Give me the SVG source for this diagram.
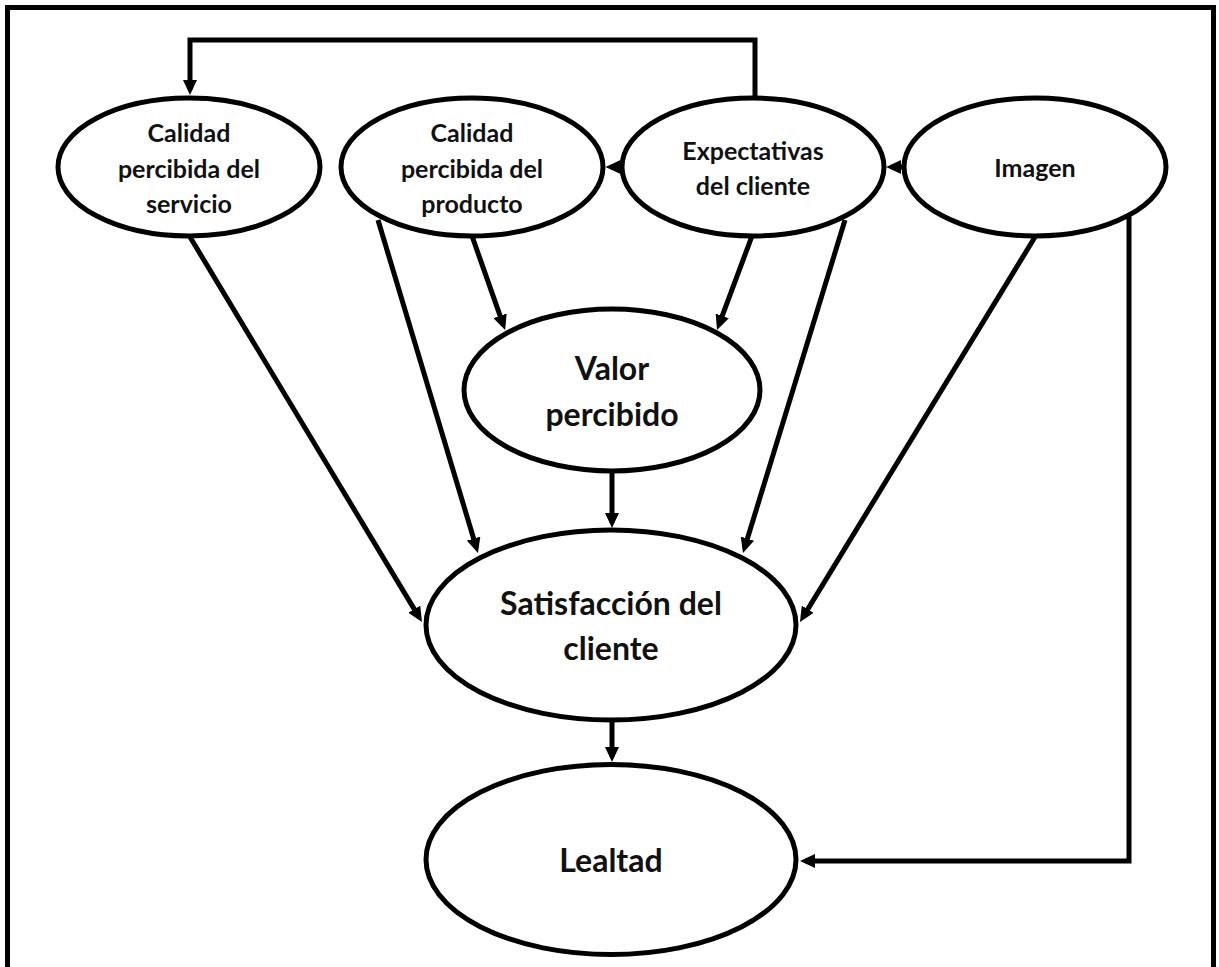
<svg xmlns="http://www.w3.org/2000/svg" width="1219" height="967" viewBox="0 0 1219 967">
  <style>
    .node ellipse { fill: #ffffff; stroke: #000000; stroke-width: 5; }
    .label { font-family: Lato, "Open Sans", "Liberation Sans", sans-serif; font-weight: bold; fill: #111111; text-anchor: middle; }
    .sm { font-size: 25px; }
    .lg { font-size: 32px; }
    .edge { fill: none; stroke: #000000; stroke-width: 5; }
  </style>
  <defs>
    <marker id="arrow" viewBox="0 0 15 14" markerWidth="15" markerHeight="14" refX="9.6" refY="7" orient="auto" markerUnits="userSpaceOnUse">
      <path d="M0,0 L15,7 L0,14 Z" fill="#000000"/>
    </marker>
  </defs>

  <rect x="0" y="0" width="1219" height="967" fill="#ffffff"/>
  <!-- outer frame (bottom edge runs past the canvas) -->
  <rect x="7.5" y="7.5" width="1206" height="980" fill="none" stroke="#000000" stroke-width="5"/>

  <g id="connectors">
    <!-- expectations feed back to service quality -->
    <path class="edge" d="M755,97 V40 H190 V89.6" marker-end="url(#arrow)"/>
    <!-- expectations -> product quality -->
    <path class="edge" d="M622,167 H611" marker-end="url(#arrow)"/>
    <!-- image -> expectations -->
    <path class="edge" d="M904,167 H891.5" marker-end="url(#arrow)"/>
    <!-- into perceived value -->
    <path class="edge" d="M472,236 L503.3,324.9" marker-end="url(#arrow)"/>
    <path class="edge" d="M752,236 L718.9,324.9" marker-end="url(#arrow)"/>
    <!-- into customer satisfaction -->
    <path class="edge" d="M190,237 L419.2,617.4" marker-end="url(#arrow)"/>
    <path class="edge" d="M378,220 L476.4,547.8" marker-end="url(#arrow)"/>
    <path class="edge" d="M612,473 V522.6" marker-end="url(#arrow)"/>
    <path class="edge" d="M845,220 L744.6,547.8" marker-end="url(#arrow)"/>
    <path class="edge" d="M1035,237 L802.8,617.4" marker-end="url(#arrow)"/>
    <!-- satisfaction -> loyalty -->
    <path class="edge" d="M612,722 V756.6" marker-end="url(#arrow)"/>
    <!-- image -> loyalty -->
    <path class="edge" d="M1129,215 V861 H805.4" marker-end="url(#arrow)"/>
  </g>

  <g id="calidad-servicio" class="node">
    <ellipse cx="189" cy="167" rx="131" ry="69"/>
    <text class="label sm" x="189" y="142">Calidad</text>
    <text class="label sm" x="189" y="178">percibida del</text>
    <text class="label sm" x="189" y="213">servicio</text>
  </g>

  <g id="calidad-producto" class="node">
    <ellipse cx="472" cy="167" rx="131" ry="69"/>
    <text class="label sm" x="472" y="142">Calidad</text>
    <text class="label sm" x="472" y="178">percibida del</text>
    <text class="label sm" x="472" y="213">producto</text>
  </g>

  <g id="expectativas" class="node">
    <ellipse cx="753" cy="167" rx="131" ry="69"/>
    <text class="label sm" x="753" y="160">Expectativas</text>
    <text class="label sm" x="753" y="195">del cliente</text>
  </g>

  <g id="imagen" class="node">
    <ellipse cx="1035" cy="167" rx="131" ry="69"/>
    <text class="label sm" x="1035" y="177">Imagen</text>
  </g>

  <g id="valor-percibido" class="node">
    <ellipse cx="612" cy="390" rx="148" ry="81"/>
    <text class="label lg" x="612" y="380">Valor</text>
    <text class="label lg" x="612" y="426">percibido</text>
  </g>

  <g id="satisfaccion" class="node">
    <ellipse cx="611" cy="625" rx="185" ry="95"/>
    <text class="label lg" x="611" y="615">Satisfacción del</text>
    <text class="label lg" x="611" y="660">cliente</text>
  </g>

  <g id="lealtad" class="node">
    <ellipse cx="611" cy="859.5" rx="185" ry="95"/>
    <text class="label lg" x="611" y="872">Lealtad</text>
  </g>
</svg>
